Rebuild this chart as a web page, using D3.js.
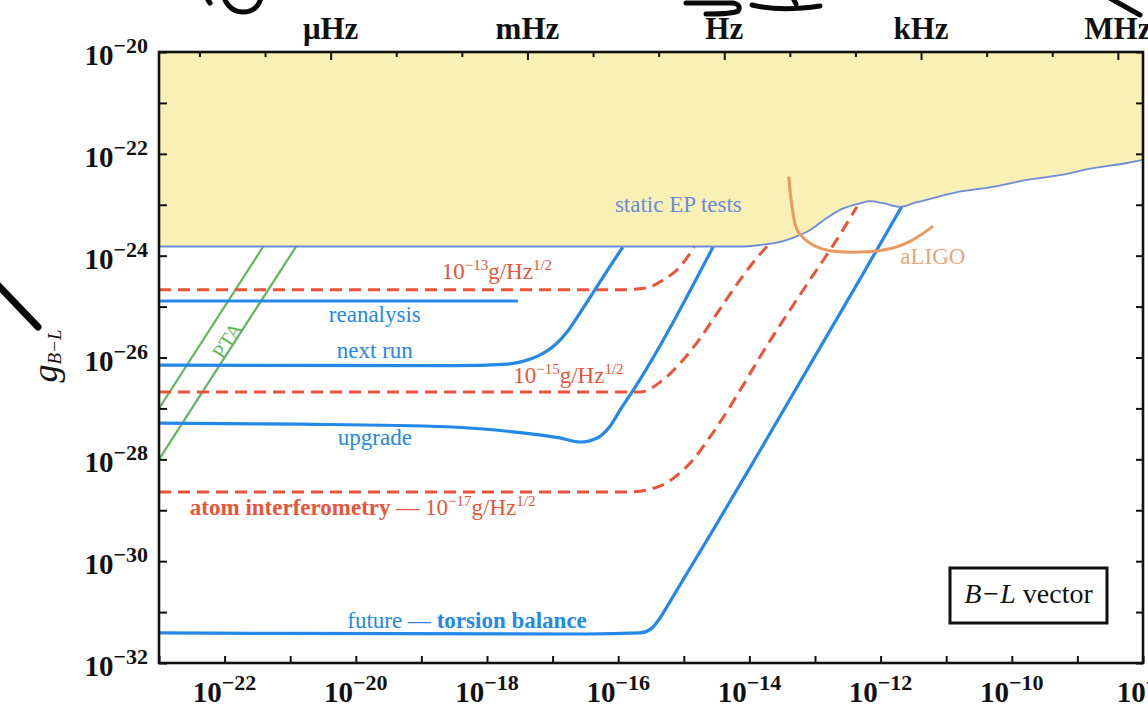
<!DOCTYPE html>
<html>
<head>
<meta charset="utf-8">
<script src="https://cdn.jsdelivr.net/npm/d3@7"></script>
<style>
  body { margin: 0; background: #fff; }
  svg { display: block; }
</style>
</head>
<body>
<svg id="chart" width="1148" height="717"></svg>
<script>
// ---- axes ----------------------------------------------------------------
// bottom: dark-photon mass in eV; left: B−L coupling; top: Compton frequency
const massDecades = d3.range(-23, -7);                    // tick every decade
const massLabelExps = [-22, -20, -18, -16, -14, -12, -10, -8];
const couplingDecades = d3.range(-32, -19);
const couplingLabelExps = [-20, -22, -24, -26, -28, -30, -32];
const freqTickExps = d3.range(-8, 7);
const freqUnitNames = ["μHz", "mHz", "Hz", "kHz", "MHz"];
const freqUnitValues = [1e-6, 1e-3, 1, 1e3, 1e6];
const HZ_PER_EV = 2.418e14;

// ---- curves: log10(mass / eV) and log10(coupling) ------------------------
// static equivalence-principle bound (edge of the excluded region)
const epLogMass = [-23, -14.14, -13.84, -13.5, -13.34, -13.08, -12.82, -12.62, -12.31, -12.16,
                   -11.96, -11.70, -11.45, -11.20, -10.90, -10.29, -9.77, -9.27, -8.76, -8.24, -8.0];
const epLogG    = [-23.82, -23.82, -23.79, -23.72, -23.65, -23.50, -23.26, -23.10, -22.97, -22.93,
                   -22.97, -23.04, -22.95, -22.87, -22.77, -22.65, -22.51, -22.42, -22.28, -22.18, -22.12];

// aLIGO
const aligoLogMass = [-13.40, -13.35, -13.27, -13.08, -12.82, -12.31, -11.81, -11.51, -11.20];
const aligoLogG    = [-22.45, -23.04, -23.50, -23.75, -23.89, -23.93, -23.85, -23.69, -23.42];

// PTA band edges (two parallel lines)
const ptaUpperLogMass = [-23, -21.405];
const ptaUpperLogG    = [-27.0, -23.81];
const ptaLowerLogMass = [-23, -20.905];
const ptaLowerLogG    = [-28.0, -23.81];

// torsion-balance projections
const reanalysisLogMass = [-23, -17.53];
const reanalysisLogG    = [-24.89, -24.89];

const nextRunLogMass = [-23, -18.5, -17.70, -17.50, -17.19, -16.96, -16.78, -16.58, -16.38, -16.16, -15.93];
const nextRunLogG    = [-26.15, -26.16, -26.13, -26.09, -25.95, -25.75, -25.50, -25.12, -24.72, -24.28, -23.83];

const upgradeLogMass = [-23, -20.85, -18.61, -17.60, -16.89, -16.58, -16.32, -16.13, -15.97, -15.77, -14.55];
const upgradeLogG    = [-27.29, -27.31, -27.36, -27.46, -27.58, -27.66, -27.58, -27.36, -27.03, -26.64, -23.82];

const futureLogMass = [-23, -16.5, -15.67, -15.50, -15.38, -15.25, -15.06, -14.55, -13.88, -12.31, -11.68];
const futureLogG    = [-31.41, -31.43, -31.41, -31.33, -31.15, -30.88, -30.47, -29.38, -27.92, -24.45, -23.04];

// atom-interferometer projections
const atom13LogMass = [-23, -15.97, -15.56, -15.32, -15.06, -14.84];
const atom13LogG    = [-24.67, -24.67, -24.63, -24.48, -24.22, -23.83];

const atom15LogMass = [-23, -15.67, -15.32, -15.06, -14.75, -14.45, -14.14, -13.91, -13.72];
const atom15LogG    = [-26.68, -26.68, -26.44, -26.12, -25.62, -25.05, -24.47, -24.08, -23.80];

const atom17LogMass = [-23, -15.82, -15.32, -15.06, -14.86, -14.60, -14.14, -13.84, -13.46, -13.08, -12.70, -12.36];
const atom17LogG    = [-28.64, -28.64, -28.50, -28.27, -28.01, -27.56, -26.64, -25.99, -25.22, -24.48, -23.75, -23.04];

// ---- layout --------------------------------------------------------------
const frame = { left: 159, right: 1143, top: 52, bottom: 663 };
const x = d3.scaleLog().domain([1e-23, 1e-8]).range([frame.left, frame.right]);
const y = d3.scaleLog().domain([1e-32, 1e-20]).range([frame.bottom, frame.top]);
const xFreq = d3.scaleLog()
  .domain(x.domain().map(m => m * HZ_PER_EV))
  .range(x.range());

const colors = {
  fill: "#f8f0b4",
  ep: "#6a8cdb",
  blue: "#2388e8",
  red: "#ea533a",
  redText: "#e6553c",
  green: "#5fb65f",
  orange: "#ea9a60",
  orangeText: "#eba57a"
};

const svg = d3.select("#chart");
const tickFont = "'Liberation Serif', 'Times New Roman', serif";
const textFont = "'Liberation Serif', 'Times New Roman', serif";

svg.append("defs").append("clipPath").attr("id", "plot-clip")
  .append("rect")
  .attr("x", frame.left).attr("y", frame.top)
  .attr("width", frame.right - frame.left)
  .attr("height", frame.bottom - frame.top);

const zip = (ms, gs) => ms.map((m, i) => [m, gs[i]]);
const line = d3.line()
  .x(d => x(Math.pow(10, d[0])))
  .y(d => y(Math.pow(10, d[1])))
  .curve(d3.curveMonotoneX);
const roundLine = d3.line()
  .x(d => x(Math.pow(10, d[0])))
  .y(d => y(Math.pow(10, d[1])))
  .curve(d3.curveCatmullRom.alpha(0.5));

const plot = svg.append("g").attr("clip-path", "url(#plot-clip)");

// excluded region above the static EP bound
const epPts = zip(epLogMass, epLogG);
plot.append("path")
  .datum(epPts)
  .attr("fill", colors.fill)
  .attr("d", d3.area()
    .x(d => x(Math.pow(10, d[0])))
    .y0(y(1e-20))
    .y1(d => y(Math.pow(10, d[1])))
    .curve(d3.curveMonotoneX));

// PTA band
[[ptaUpperLogMass, ptaUpperLogG], [ptaLowerLogMass, ptaLowerLogG]].forEach(([ms, gs]) => {
  plot.append("path").datum(zip(ms, gs))
    .attr("fill", "none").attr("stroke", colors.green).attr("stroke-width", 2.2)
    .attr("d", line);
});

// atom interferometry (dashed)
[[atom13LogMass, atom13LogG], [atom15LogMass, atom15LogG], [atom17LogMass, atom17LogG]].forEach(([ms, gs]) => {
  plot.append("path").datum(zip(ms, gs))
    .attr("fill", "none").attr("stroke", colors.red).attr("stroke-width", 3)
    .attr("stroke-dasharray", "12,7")
    .attr("d", line);
});

// torsion balance (solid)
[[reanalysisLogMass, reanalysisLogG], [nextRunLogMass, nextRunLogG],
 [upgradeLogMass, upgradeLogG], [futureLogMass, futureLogG]].forEach(([ms, gs]) => {
  plot.append("path").datum(zip(ms, gs))
    .attr("fill", "none").attr("stroke", colors.blue).attr("stroke-width", 3.2)
    .attr("stroke-linecap", "butt")
    .attr("d", line);
});

// EP bound edge
plot.append("path").datum(epPts)
  .attr("fill", "none").attr("stroke", colors.ep).attr("stroke-width", 1.8)
  .attr("d", line);

// aLIGO
plot.append("path").datum(zip(aligoLogMass, aligoLogG))
  .attr("fill", "none").attr("stroke", colors.orange).attr("stroke-width", 3)
  .attr("d", roundLine);

// ---- axes ----------------------------------------------------------------
const P = e => Math.pow(10, e);

svg.append("g").attr("transform", `translate(0,${frame.bottom})`)
  .call(d3.axisBottom(x).tickValues(massDecades.map(P)).tickSizeInner(-7).tickSizeOuter(0).tickFormat(""))
  .call(g => g.select(".domain").remove())
  .call(g => g.selectAll(".tick line").attr("stroke", "#111").attr("stroke-width", 2));

svg.append("g").attr("transform", `translate(${frame.left},0)`)
  .call(d3.axisLeft(y).tickValues(couplingDecades.map(P)).tickSizeInner(-8).tickSizeOuter(0).tickFormat(""))
  .call(g => g.select(".domain").remove())
  .call(g => g.selectAll(".tick line").attr("stroke", "#111").attr("stroke-width", 2));

svg.append("g").attr("transform", `translate(${frame.right},0)`)
  .call(d3.axisRight(y).tickValues(couplingDecades.map(P)).tickSizeInner(-7).tickSizeOuter(0).tickFormat(""))
  .call(g => g.select(".domain").remove())
  .call(g => g.selectAll(".tick line").attr("stroke", "#111").attr("stroke-width", 2));

svg.append("g").attr("transform", `translate(0,${frame.top})`)
  .call(d3.axisTop(xFreq).tickValues(freqTickExps.map(P)).tickSizeInner(-5).tickSizeOuter(0).tickFormat(""))
  .call(g => g.select(".domain").remove())
  .call(g => g.selectAll(".tick line")
    .attr("stroke", "#111").attr("stroke-width", 2)
    .attr("y2", d => freqUnitValues.some(v => Math.abs(Math.log10(v) - Math.log10(d)) < 1e-6) ? 8 : 5));

// frame
svg.append("rect")
  .attr("x", frame.left).attr("y", frame.top)
  .attr("width", frame.right - frame.left).attr("height", frame.bottom - frame.top)
  .attr("fill", "none").attr("stroke", "#111").attr("stroke-width", 2.6);

// power-of-ten tick labels
function powerLabel(parent, exp, px, py, anchor) {
  const t = parent.append("text")
    .attr("x", px).attr("y", py)
    .attr("text-anchor", anchor)
    .attr("font-family", tickFont).attr("font-weight", "bold")
    .attr("font-size", 29).attr("fill", "#111");
  t.append("tspan").text("10");
  t.append("tspan").attr("dy", -12).attr("font-size", 22).text("\u2212" + Math.abs(exp));
  return t;
}

const tickLabels = svg.append("g");
massLabelExps.forEach(e => powerLabel(tickLabels, e, x(P(e)), 702, "middle"));
couplingLabelExps.forEach(e => powerLabel(tickLabels, e, 148, y(P(e)) + 13, "end"));

svg.append("g").selectAll("text")
  .data(freqUnitValues)
  .join("text")
  .attr("x", d => xFreq(d)).attr("y", 39)
  .attr("text-anchor", "middle")
  .attr("font-family", tickFont).attr("font-weight", "bold")
  .attr("font-size", 31).attr("fill", "#111")
  .text((d, i) => freqUnitNames[i]);

// y axis title  g_{B−L}
const yTitle = svg.append("text")
  .attr("transform", "translate(57,356) rotate(-90)")
  .attr("text-anchor", "middle")
  .attr("font-family", textFont).attr("font-style", "italic")
  .attr("font-size", 36).attr("fill", "#111");
yTitle.append("tspan").text("g");
yTitle.append("tspan").attr("dy", 4).attr("font-size", 19).text("B\u2212L");

// ---- curve labels --------------------------------------------------------
const labels = svg.append("g").attr("font-family", textFont).attr("font-size", 23);
const at = (lm, lg) => [x(P(lm)), y(P(lg))];

function textAt(lm, lg, anchor, color) {
  const [px, py] = at(lm, lg);
  return labels.append("text").attr("x", px).attr("y", py)
    .attr("text-anchor", anchor).attr("fill", color);
}

textAt(-16.05, -23.14, "start", colors.ep).text("static EP tests");
textAt(-19.71, -25.30, "middle", colors.blue).text("reanalysis");
textAt(-19.71, -26.01, "middle", colors.blue).text("next run");
textAt(-19.71, -27.72, "middle", colors.blue).text("upgrade");

const fut = textAt(-20.13, -31.31, "start", colors.blue);
fut.append("tspan").text("future \u2014 ");
fut.append("tspan").attr("font-weight", "bold").text("torsion balance");

function gPerRootHz(t, exp) {
  t.append("tspan").text("10");
  t.append("tspan").attr("dy", -9).attr("font-size", 15).text("\u2212" + exp);
  t.append("tspan").attr("dy", 9).text("g/Hz");
  t.append("tspan").attr("dy", -9).attr("font-size", 15).text("1/2");
}
gPerRootHz(textAt(-18.69, -24.46, "start", colors.redText), 13);
gPerRootHz(textAt(-17.60, -26.50, "start", colors.redText), 15);
const atomLbl = textAt(-22.53, -29.09, "start", colors.redText);
atomLbl.append("tspan").attr("font-weight", "bold").text("atom interferometry");
atomLbl.append("tspan").text(" \u2014 ");
gPerRootHz(atomLbl, 17);

textAt(-11.70, -24.16, "start", colors.orangeText).text("aLIGO");

// PTA label, rotated along the band
{
  const a = at(ptaUpperLogMass[0], ptaUpperLogG[0]);
  const b = at(ptaUpperLogMass[1], ptaUpperLogG[1]);
  const angle = Math.atan2(b[1] - a[1], b[0] - a[0]) * 180 / Math.PI;
  const [px, py] = at(-21.96, -25.66);
  labels.append("text")
    .attr("transform", `translate(${px},${py}) rotate(${angle})`)
    .attr("text-anchor", "middle").attr("dy", "0.35em")
    .attr("font-size", 21).attr("fill", colors.green)
    .text("PTA");
}

// model tag box
{
  const boxW = 157, boxH = 55;
  const bx = frame.right - 36 - boxW, by = frame.bottom - 40 - boxH;
  svg.append("rect").attr("x", bx).attr("y", by).attr("width", boxW).attr("height", boxH)
    .attr("fill", "#fff").attr("stroke", "#111").attr("stroke-width", 3);
  const t = svg.append("text").attr("x", bx + boxW / 2).attr("y", by + 35)
    .attr("text-anchor", "middle").attr("font-family", textFont)
    .attr("font-size", 28).attr("fill", "#111");
  t.append("tspan").attr("font-style", "italic").text("B\u2212L");
  t.append("tspan").text(" vector");
}

// stray hand-drawn ink strokes over the figure edges
const ink = [
  "M208,0 L210,3",
  "M224,-2 Q230,12 243,12 Q257,12 261,-2",
  "M686,3 L733,3 Q742,5 738,11 Q733,14 706,14",
  "M752,5 Q780,12 820,6",
  "M793,-2 L796,4",
  "M1106,-4 L1140,15",
  "M-6,281 L38,327"
];
svg.append("g").selectAll("path").data(ink).join("path")
  .attr("d", d => d).attr("fill", "none").attr("stroke", "#0a0a0a")
  .attr("stroke-width", (d, i) => i === ink.length - 1 ? 7 : 5)
  .attr("stroke-linecap", "round").attr("stroke-linejoin", "round");
</script>
</body>
</html>
